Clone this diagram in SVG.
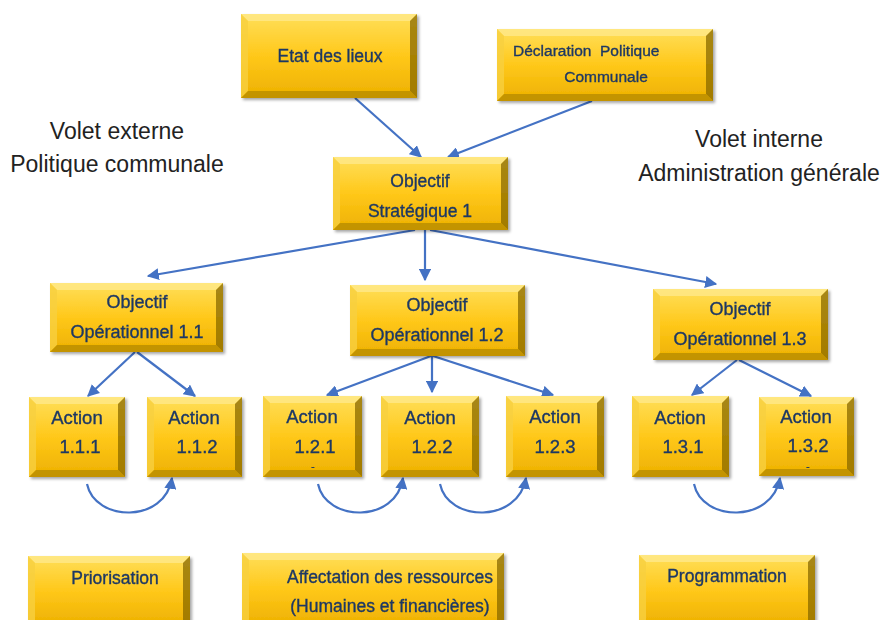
<svg xmlns="http://www.w3.org/2000/svg" width="884" height="620" viewBox="0 0 884 620">
<defs>
<linearGradient id="face" x1="0" y1="0" x2="0" y2="1">
<stop offset="0" stop-color="#FFDF5A"/>
<stop offset="0.5" stop-color="#FFC81A"/>
<stop offset="1" stop-color="#EDB000"/>
</linearGradient>
<filter id="sh" x="-10%" y="-10%" width="125%" height="130%">
<feDropShadow dx="2" dy="2" stdDeviation="1.5" flood-color="#000" flood-opacity="0.35"/>
</filter>
<marker id="ah" viewBox="0 0 10 10" refX="9" refY="5" markerWidth="5.5" markerHeight="5.5" orient="auto" markerUnits="strokeWidth">
<path d="M0,0 L10,5 L0,10 z" fill="#4472C4"/>
</marker>
</defs>
<style>
.face{fill:url(#face);}
.bt{fill:#FFE98A;opacity:0.8;}
.bl{fill:#F8D040;opacity:0.8;}
.br{fill:#8A6A00;opacity:0.75;}
.bb{fill:#B88C00;opacity:0.8;}
.t{font-family:"Liberation Sans",Arial,sans-serif;fill:#1F3864;stroke:#1F3864;stroke-width:0.35;text-anchor:middle;}
.s16{font-size:17.5px;}
.s17{font-size:18.5px;}
.s18{font-size:18px;}
.lab{font-family:"Liberation Sans",Arial,sans-serif;font-size:23px;fill:#222;text-anchor:middle;}
.c{fill:none;stroke:#4472C4;stroke-width:2.2;marker-end:url(#ah);}
</style>
<rect width="884" height="620" fill="#fff"/>

<g id="connectors">
<path class="c" d="M355,98 L421,157"/>
<path class="c" d="M592,101 L448,157"/>
<path class="c" d="M415,230 L148,276"/>
<path class="c" d="M425,230 L425,280"/>
<path class="c" d="M430,230 L716,284"/>
<path class="c" d="M135,352 L88,396"/>
<path class="c" d="M137,352 L195,396"/>
<path class="c" d="M431,356 L327,395"/>
<path class="c" d="M432,356 L432,392"/>
<path class="c" d="M433,356 L553,395"/>
<path class="c" d="M737,360 L692,395"/>
<path class="c" d="M739,360 L811,396"/>
<path class="c" d="M87,484 C95,522 165,524 172,478"/>
<path class="c" d="M318,484 C326,522 396,524 403,478"/>
<path class="c" d="M440,484 C448,522 518,524 526,478"/>
<path class="c" d="M694,484 C702,522 772,524 780,478"/>
</g>

<g id="etat" filter="url(#sh)">
<rect class="face" x="241" y="14" width="176" height="84"/>
<polygon class="bt" points="241,14 417,14 410,21 248,21"/>
<polygon class="bl" points="241,14 248,21 248,91 241,98"/>
<polygon class="br" points="417,14 417,98 410,91 410,21"/>
<polygon class="bb" points="241,98 417,98 410,91 248,91"/>
<text class="t s16" x="330" y="62">Etat des lieux</text>
</g>

<g id="declaration" filter="url(#sh)">
<rect class="face" x="497" y="29" width="216" height="72"/>
<polygon class="bt" points="497,29 713,29 706,36 504,36"/>
<polygon class="bl" points="497,29 504,36 504,94 497,101"/>
<polygon class="br" points="713,29 713,101 706,94 706,36"/>
<polygon class="bb" points="497,101 713,101 706,94 504,94"/>
<text class="t" x="513" y="56" style="font-size:15.5px;text-anchor:start" xml:space="preserve">Déclaration  Politique</text>
<text class="t" x="606" y="82" style="font-size:15.5px">Communale</text>
</g>

<g id="strategique" filter="url(#sh)">
<rect class="face" x="333" y="157" width="175" height="73"/>
<polygon class="bt" points="333,157 508,157 501,164 340,164"/>
<polygon class="bl" points="333,157 340,164 340,223 333,230"/>
<polygon class="br" points="508,157 508,230 501,223 501,164"/>
<polygon class="bb" points="333,230 508,230 501,223 340,223"/>
<text class="t s16" x="420" y="187">Objectif</text>
<text class="t s16" x="420" y="217">Stratégique 1</text>
</g>

<g id="op11" filter="url(#sh)">
<rect class="face" x="50" y="283" width="173" height="69"/>
<polygon class="bt" points="50,283 223,283 216,290 57,290"/>
<polygon class="bl" points="50,283 57,290 57,345 50,352"/>
<polygon class="br" points="223,283 223,352 216,345 216,290"/>
<polygon class="bb" points="50,352 223,352 216,345 57,345"/>
<text class="t s18" x="137" y="308">Objectif</text>
<text class="t s18" x="137" y="338">Opérationnel 1.1</text>
</g>

<g id="op12" filter="url(#sh)">
<rect class="face" x="350" y="285" width="175" height="71"/>
<polygon class="bt" points="350,285 525,285 518,292 357,292"/>
<polygon class="bl" points="350,285 357,292 357,349 350,356"/>
<polygon class="br" points="525,285 525,356 518,349 518,292"/>
<polygon class="bb" points="350,356 525,356 518,349 357,349"/>
<text class="t s18" x="437" y="311">Objectif</text>
<text class="t s18" x="437" y="341">Opérationnel 1.2</text>
</g>

<g id="op13" filter="url(#sh)">
<rect class="face" x="653" y="289" width="175" height="71"/>
<polygon class="bt" points="653,289 828,289 821,296 660,296"/>
<polygon class="bl" points="653,289 660,296 660,353 653,360"/>
<polygon class="br" points="828,289 828,360 821,353 821,296"/>
<polygon class="bb" points="653,360 828,360 821,353 660,353"/>
<text class="t s18" x="740" y="315">Objectif</text>
<text class="t s18" x="740" y="345">Opérationnel 1.3</text>
</g>

<g id="a111" filter="url(#sh)">
<rect class="face" x="29" y="397" width="96" height="80"/>
<polygon class="bt" points="29,397 125,397 118,404 36,404"/>
<polygon class="bl" points="29,397 36,404 36,470 29,477"/>
<polygon class="br" points="125,397 125,477 118,470 118,404"/>
<polygon class="bb" points="29,477 125,477 118,470 36,470"/>
<text class="t s17" x="77" y="424">Action</text>
<text class="t s17" x="80" y="453">1.1.1</text>
</g>

<g id="a112" filter="url(#sh)">
<rect class="face" x="147" y="397" width="95" height="80"/>
<polygon class="bt" points="147,397 242,397 235,404 154,404"/>
<polygon class="bl" points="147,397 154,404 154,470 147,477"/>
<polygon class="br" points="242,397 242,477 235,470 235,404"/>
<polygon class="bb" points="147,477 242,477 235,470 154,470"/>
<text class="t s17" x="194" y="424">Action</text>
<text class="t s17" x="197" y="453">1.1.2</text>
</g>

<g id="a121" filter="url(#sh)">
<rect class="face" x="263" y="396" width="99" height="81"/>
<polygon class="bt" points="263,396 362,396 355,403 270,403"/>
<polygon class="bl" points="263,396 270,403 270,470 263,477"/>
<polygon class="br" points="362,396 362,477 355,470 355,403"/>
<polygon class="bb" points="263,477 362,477 355,470 270,470"/>
<text class="t s17" x="312" y="423">Action</text>
<text class="t s17" x="315" y="453">1.2.1</text>
<text class="t" x="313" y="470" style="font-size:10px">-</text>
</g>

<g id="a122" filter="url(#sh)">
<rect class="face" x="381" y="396" width="98" height="81"/>
<polygon class="bt" points="381,396 479,396 472,403 388,403"/>
<polygon class="bl" points="381,396 388,403 388,470 381,477"/>
<polygon class="br" points="479,396 479,477 472,470 472,403"/>
<polygon class="bb" points="381,477 479,477 472,470 388,470"/>
<text class="t s17" x="430" y="424">Action</text>
<text class="t s17" x="432" y="453">1.2.2</text>
</g>

<g id="a123" filter="url(#sh)">
<rect class="face" x="506" y="396" width="98" height="81"/>
<polygon class="bt" points="506,396 604,396 597,403 513,403"/>
<polygon class="bl" points="506,396 513,403 513,470 506,477"/>
<polygon class="br" points="604,396 604,477 597,470 597,403"/>
<polygon class="bb" points="506,477 604,477 597,470 513,470"/>
<text class="t s17" x="555" y="423">Action</text>
<text class="t s17" x="555" y="453">1.2.3</text>
</g>

<g id="a131" filter="url(#sh)">
<rect class="face" x="632" y="396" width="97" height="81"/>
<polygon class="bt" points="632,396 729,396 722,403 639,403"/>
<polygon class="bl" points="632,396 639,403 639,470 632,477"/>
<polygon class="br" points="729,396 729,477 722,470 722,403"/>
<polygon class="bb" points="632,477 729,477 722,470 639,470"/>
<text class="t s17" x="680" y="424">Action</text>
<text class="t s17" x="683" y="453">1.3.1</text>
</g>

<g id="a132" filter="url(#sh)">
<rect class="face" x="759" y="397" width="95" height="79"/>
<polygon class="bt" points="759,397 854,397 847,404 766,404"/>
<polygon class="bl" points="759,397 766,404 766,469 759,476"/>
<polygon class="br" points="854,397 854,476 847,469 847,404"/>
<polygon class="bb" points="759,476 854,476 847,469 766,469"/>
<text class="t s17" x="806" y="423">Action</text>
<text class="t s17" x="808" y="452">1.3.2</text>
<text class="t" x="808" y="470" style="font-size:10px">-</text>
</g>

<g id="priorisation" filter="url(#sh)">
<rect class="face" x="28" y="556" width="162" height="70"/>
<polygon class="bt" points="28,556 190,556 183,563 35,563"/>
<polygon class="bl" points="28,556 35,563 35,626 28,626"/>
<polygon class="br" points="190,556 190,626 183,626 183,563"/>
<text class="t s16" x="115" y="584">Priorisation</text>
</g>

<g id="affectation" filter="url(#sh)">
<rect class="face" x="242" y="553" width="262" height="73"/>
<polygon class="bt" points="242,553 504,553 497,560 249,560"/>
<polygon class="bl" points="242,553 249,560 249,626 242,626"/>
<polygon class="br" points="504,553 504,626 497,626 497,560"/>
<text class="t s16" x="390" y="583">Affectation des ressources</text>
<text class="t s16" x="390" y="612">(Humaines et financières)</text>
</g>

<g id="programmation" filter="url(#sh)">
<rect class="face" x="639" y="555" width="176" height="71"/>
<polygon class="bt" points="639,555 815,555 808,562 646,562"/>
<polygon class="bl" points="639,555 646,562 646,626 639,626"/>
<polygon class="br" points="815,555 815,626 808,626 808,562"/>
<text class="t s16" x="727" y="582">Programmation</text>
</g>

<g id="volet-externe">
<text class="lab" x="117" y="139">Volet externe</text>
<text class="lab" x="117" y="172">Politique communale</text>
</g>
<g id="volet-interne">
<text class="lab" x="759" y="147">Volet interne</text>
<text class="lab" x="759" y="181">Administration générale</text>
</g>
</svg>
